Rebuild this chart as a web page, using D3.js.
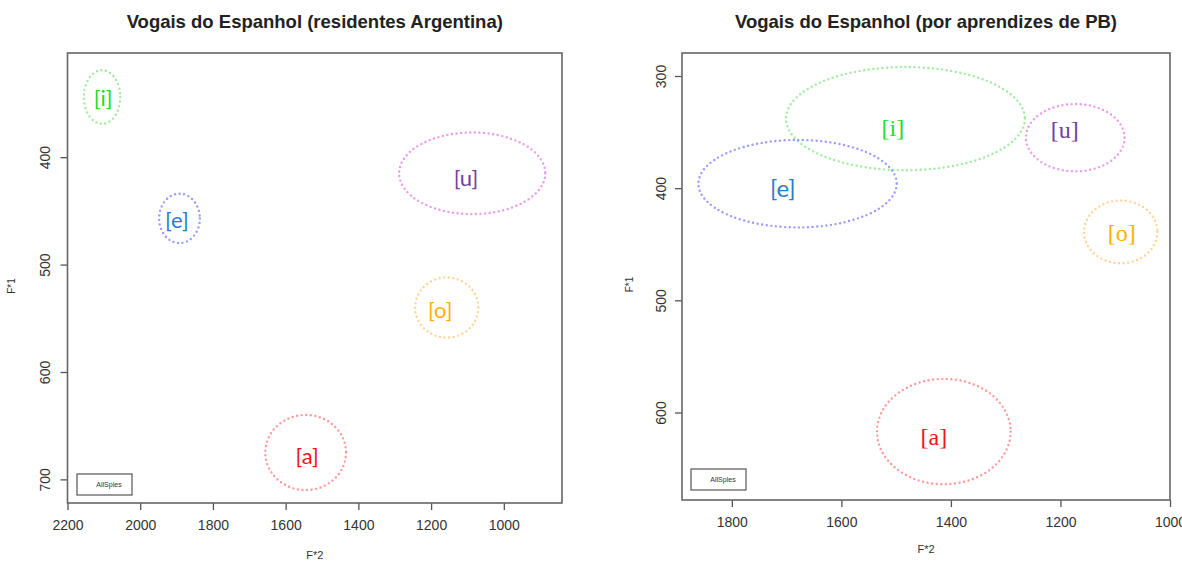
<!DOCTYPE html>
<html><head><meta charset="utf-8">
<script src="https://cdn.jsdelivr.net/npm/d3@7"></script>
<style>body{margin:0;background:#fff}svg{display:block}</style>
</head><body>
<svg id="chart" width="1182" height="561"></svg>
<script>
// ---- data ----
const vowels = ["[i]", "[e]", "[u]", "[o]", "[a]"];
const ellipseColors = ["#8fe88f", "#8888ff", "#e88ae8", "#ffcc88", "#ff8888"];
const labelColors = ["#22dd22", "#1e7fd0", "#7040a0", "#ffb000", "#ee1515"];

const titles = ["Vogais do Espanhol (residentes Argentina)", "Vogais do Espanhol (por aprendizes de PB)"];
const legendText = "AllSples";

// left panel (residentes Argentina)
const leftF2 = [2105, 1892, 1087, 1157, 1545];
const leftF1 = [344, 457, 415, 540, 675];
const leftF2Rad = [50, 56, 201, 87, 111];
const leftF1Rad = [25, 23, 38, 28, 35];
const leftLabelF2 = [2102, 1899, 1104, 1175, 1541];
const leftLabelF1 = [344, 458, 419, 542, 678];
const leftXTicks = [2200, 2000, 1800, 1600, 1400, 1200, 1000];
const leftYTicks = [400, 500, 600, 700];

// right panel (aprendizes de PB)
const rightF2 = [1483, 1680, 1173, 1090, 1413];
const rightF1 = [338, 396, 355, 439, 617];
const rightF2Rad = [218, 181, 90, 67, 122];
const rightF1Rad = [46, 39, 30, 28, 47];
const rightLabelF2 = [1506, 1707, 1192, 1088, 1431];
const rightLabelF1 = [346, 399, 348, 440, 622];
const rightXTicks = [1800, 1600, 1400, 1200, 1000];
const rightYTicks = [300, 400, 500, 600];

const svg = d3.select("#chart");

function panel(cfg) {
  const x = d3.scaleLinear().domain(cfg.xDomain).range([cfg.left, cfg.right]);
  const y = d3.scaleLinear().domain(cfg.yDomain).range([cfg.top, cfg.bottom]);
  const g = svg.append("g");

  // title
  g.append("text").attr("x", (cfg.left + cfg.right) / 2).attr("y", cfg.titleY)
    .attr("text-anchor", "middle").attr("font-family", "Liberation Sans, Arial, sans-serif")
    .attr("font-weight", "bold").attr("font-size", 18.5).attr("fill", "#222").text(cfg.title);

  // x axis
  const xa = g.append("g").attr("transform", `translate(0,${cfg.bottom})`)
    .call(d3.axisBottom(x).tickValues(cfg.xTicks).tickSize(7).tickFormat(d3.format("d")));
  xa.select(".domain").remove();
  xa.selectAll(".tick line").attr("stroke", "#555").attr("stroke-width", 1.3);
  xa.selectAll(".tick text").attr("y", 17).attr("font-size", 14)
    .attr("font-family", "Liberation Sans, Arial, sans-serif").attr("fill", "#333");

  // y axis
  const ya = g.append("g").attr("transform", `translate(${cfg.left},0)`)
    .call(d3.axisLeft(y).tickValues(cfg.yTicks).tickSize(7).tickFormat(d3.format("d")));
  ya.select(".domain").remove();
  ya.selectAll(".tick line").attr("stroke", "#555").attr("stroke-width", 1.3);
  ya.selectAll(".tick text").attr("x", null).attr("dy", null).attr("text-anchor", "middle")
    .attr("transform", `translate(${cfg.yTickOff},0) rotate(-90)`).attr("font-size", 14)
    .attr("font-family", "Liberation Sans, Arial, sans-serif").attr("fill", "#333");

  // box
  g.append("rect").attr("x", cfg.left).attr("y", cfg.top)
    .attr("width", cfg.right - cfg.left).attr("height", cfg.bottom - cfg.top)
    .attr("fill", "none").attr("stroke", "#666").attr("stroke-width", 1.6);

  // axis titles
  g.append("text").attr("transform", `translate(${cfg.yLabX},${(cfg.top + cfg.bottom) / 2 + 8}) rotate(-90)`)
    .attr("text-anchor", "middle").attr("font-size", 10).attr("font-family", "Liberation Sans, Arial, sans-serif")
    .attr("fill", "#333").text("F*1");
  g.append("text").attr("x", (cfg.left + cfg.right) / 2).attr("y", cfg.xLabY)
    .attr("text-anchor", "middle").attr("font-size", 11).attr("font-family", "Liberation Sans, Arial, sans-serif")
    .attr("fill", "#333").text("F*2");

  // ellipses
  const idx = d3.range(vowels.length);
  g.selectAll("ellipse.v").data(idx).join("ellipse")
    .attr("cx", i => x(cfg.f2[i])).attr("cy", i => y(cfg.f1[i]))
    .attr("rx", i => Math.abs(x(cfg.f2[i] + cfg.f2r[i]) - x(cfg.f2[i])))
    .attr("ry", i => Math.abs(y(cfg.f1[i] + cfg.f1r[i]) - y(cfg.f1[i])))
    .attr("fill", "none").attr("stroke", i => ellipseColors[i]).attr("stroke-width", 2.4)
    .attr("stroke-opacity", 0.85)
    .attr("stroke-dasharray", "0,4.6").attr("stroke-linecap", "round");

  // labels
  g.selectAll("text.v").data(idx).join("text")
    .attr("x", i => x(cfg.lf2[i])).attr("y", i => y(cfg.lf1[i]))
    .attr("text-anchor", "middle").attr("dominant-baseline", "central")
    .attr("font-family", i => cfg.fonts[i]).attr("font-size", cfg.labelSize)
    .attr("fill", i => labelColors[i]).text(i => vowels[i]);

  // legend
  g.append("rect").attr("x", cfg.legX).attr("y", cfg.legY).attr("width", 55).attr("height", 21)
    .attr("fill", "#fff").attr("stroke", "#555").attr("stroke-width", 1.2);
  g.append("text").attr("x", cfg.legX + 32).attr("y", cfg.legY + 10.5).attr("dominant-baseline", "central")
    .attr("text-anchor", "middle").attr("font-size", 7).attr("font-family", "Liberation Sans, Arial, sans-serif")
    .attr("fill", "#333").text(legendText);
}

const sans = "Lato, 'Open Sans', sans-serif";
const serif = "'Liberation Serif', 'DejaVu Serif', serif";

panel({
  title: titles[0], xDomain: [2200, 840], yDomain: [303, 722],
  left: 67.5, right: 562, top: 53, bottom: 503, titleY: 28,
  xTicks: leftXTicks, yTicks: leftYTicks, yLabX: 15, xLabY: 559, yTickOff: -18,
  f2: leftF2, f1: leftF1, f2r: leftF2Rad, f1r: leftF1Rad, lf2: leftLabelF2, lf1: leftLabelF1,
  fonts: [sans, sans, sans, sans, sans], labelSize: 22, legX: 77, legY: 474
});
panel({
  title: titles[1], xDomain: [1891, 1000], yDomain: [279.5, 678],
  left: 682, right: 1170, top: 53, bottom: 500, titleY: 28,
  xTicks: rightXTicks, yTicks: rightYTicks, yLabX: 633, xLabY: 553, yTickOff: -16,
  f2: rightF2, f1: rightF1, f2r: rightF2Rad, f1r: rightF1Rad, lf2: rightLabelF2, lf1: rightLabelF1,
  fonts: [serif, sans, serif, serif, serif], labelSize: 24, legX: 691, legY: 469
});
</script>
</body></html>
